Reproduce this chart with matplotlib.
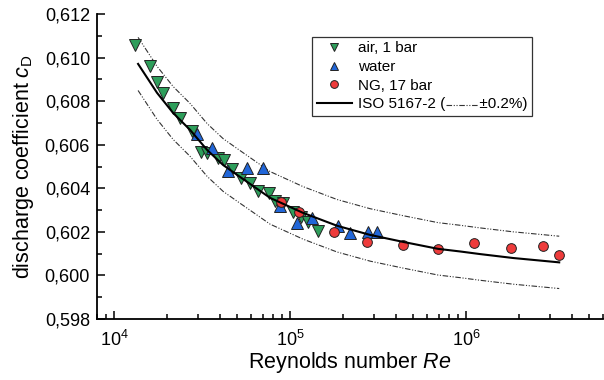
import matplotlib.pyplot as plt
from matplotlib.lines import Line2D
from matplotlib.ticker import MultipleLocator, FuncFormatter, LogLocator

plt.rcParams['font.family'] = ['Liberation Sans', 'DejaVu Sans']
plt.rcParams['mathtext.fontset'] = 'custom'
plt.rcParams['mathtext.rm'] = 'Liberation Sans'
plt.rcParams['mathtext.it'] = 'Liberation Sans:italic'

# data
air_re = [13160, 16010, 17550, 18980, 21640, 23710, 27750, 31210, 33760, 38980,
          42170, 46820, 52680, 59260, 65800, 75990, 82170, 91250, 104000,
          115500, 126600, 144200]
air_cd = [0.61058, 0.60961, 0.60888, 0.60838, 0.60769, 0.60723, 0.60663,
          0.60567, 0.60562, 0.60539, 0.60530, 0.60489, 0.60448, 0.60425,
          0.60388, 0.60379, 0.60342, 0.60333, 0.60292, 0.60269, 0.60246,
          0.60205]

water_re = [29630, 36050, 44430, 56960, 70250, 87730, 109600, 133400,
            187400, 219300, 277500, 312100]
water_cd = [0.60650, 0.60585, 0.60480, 0.60494, 0.60494, 0.60319, 0.60241,
            0.60264, 0.60228, 0.60195, 0.60200, 0.60200]

ng_re = [88880, 112500, 177800, 273800, 438500, 693300, 1111000, 1802000,
         2738000, 3377000]
ng_cd = [0.60338, 0.60292, 0.60200, 0.60154, 0.60140, 0.60122, 0.60150,
         0.60127, 0.60136, 0.60094]

iso_re = [13690, 17550, 21640, 27030, 33770, 41630, 52000, 77000, 118600,
          184900, 284800, 438500, 693300, 925000, 1201000, 1849000,
          2500000, 3377000]
iso_cd = [0.60971, 0.60838, 0.60746, 0.60668, 0.60576, 0.60507, 0.60452,
          0.60356, 0.60287, 0.60228, 0.60186, 0.60154, 0.60122, 0.60110,
          0.60098, 0.60080, 0.60070, 0.60060]
tol = 0.002  # +-0.2 %
iso_up = [c * (1 + tol) for c in iso_cd]
iso_lo = [c * (1 - tol) for c in iso_cd]

green = '#2e9e5b'
blue = '#2166d8'
red = '#ee3b3b'
band_style = (0, (5, 1.5, 1, 1.5, 1, 1.5))

fig = plt.figure(figsize=(6.04, 3.80), dpi=100)
ax = fig.add_axes([0.1606, 0.1605, 0.838, 0.8026])

ax.plot(iso_re, iso_up, color='#333333', lw=0.8, ls=band_style, zorder=2)
ax.plot(iso_re, iso_lo, color='#333333', lw=0.8, ls=band_style, zorder=2)

h_air, = ax.plot(air_re, air_cd, 'v', ms=8, mfc=green, mec='#222222', mew=0.7,
                 label='air, 1 bar', zorder=3)
h_water, = ax.plot(water_re, water_cd, '^', ms=8, mfc=blue, mec='#222222',
                   mew=0.7, label='water', zorder=3)
h_ng, = ax.plot(ng_re, ng_cd, 'o', ms=7, mfc=red, mec='#222222', mew=0.7,
                label='NG, 17 bar', zorder=3)
pre = 'ISO 5167-2 ('
gap = ' ' * 8
h_iso, = ax.plot(iso_re, iso_cd, color='black', lw=1.5,
                 label=pre + gap + '\u00b10.2%)', zorder=4)

ax.set_xscale('log')
ax.set_xlim(8000, 6.0e6)
ax.set_ylim(0.598, 0.612)
ax.yaxis.set_major_locator(MultipleLocator(0.002))
ax.yaxis.set_minor_locator(MultipleLocator(0.001))
ax.yaxis.set_major_formatter(FuncFormatter(lambda v, p: f"{v:.3f}".replace('.', ',')))
ax.xaxis.set_major_locator(LogLocator(base=10))
ax.xaxis.set_minor_locator(LogLocator(base=10, subs=range(2, 10)))

for s in ['top', 'right']:
    ax.spines[s].set_visible(False)
for s in ['left', 'bottom']:
    ax.spines[s].set_linewidth(1.3)
ax.tick_params(which='both', direction='in', width=1.1, labelsize=13)
ax.tick_params(which='major', length=6, pad=5)
ax.tick_params(which='minor', length=3.5)
ax.tick_params(axis='x', which='major', pad=8)

ax.set_xlabel('Reynolds number $Re$', fontsize=15.5, labelpad=0)
ax.set_ylabel('discharge coefficient $c_\\mathrm{D}$', fontsize=15.5, labelpad=6)

leg = ax.legend(handles=[h_air, h_water, h_ng, h_iso], loc='upper left',
                bbox_to_anchor=(0.425, 0.925), borderaxespad=0, fontsize=11,
                frameon=True, fancybox=False, edgecolor='black',
                markerscale=0.8, handlelength=2.3, handletextpad=0.4,
                labelspacing=0.3, borderpad=0.3)
leg.get_frame().set_linewidth(0.9)

# small dash-dot-dot sample inside the ISO legend text
fig.canvas.draw()
r = fig.canvas.get_renderer()
t = leg.get_texts()[3]
bb = t.get_window_extent(r)
tmp1 = fig.text(0, 0, pre, fontproperties=t.get_fontproperties())
tmp2 = fig.text(0, 0, pre + gap, fontproperties=t.get_fontproperties())
w1 = tmp1.get_window_extent(r).width
w2 = tmp2.get_window_extent(r).width
tmp1.remove()
tmp2.remove()
inv = fig.transFigure.inverted()
yc = bb.y0 + bb.height * 0.45
p0 = inv.transform((bb.x0 + w1 + 1, yc))
p1 = inv.transform((bb.x0 + w2 - 1, yc))
fig.add_artist(Line2D([p0[0], p1[0]], [p0[1], p1[1]], color='#333333',
                      lw=0.8, ls=band_style, transform=fig.transFigure))

fig.savefig('out.png', dpi=100)
